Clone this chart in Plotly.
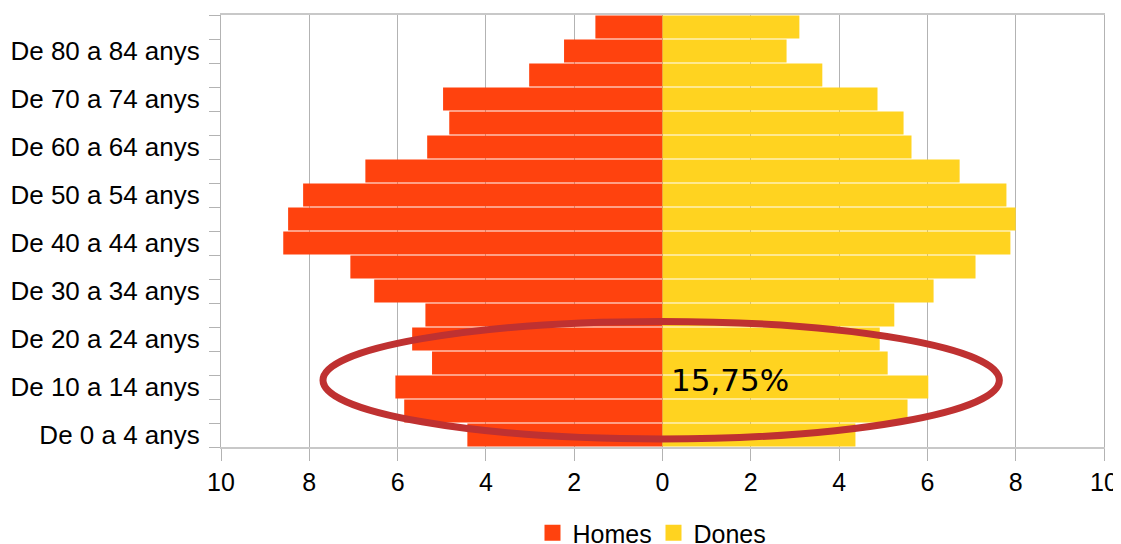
import plotly.graph_objects as go

categories = [
    "De 0 a 4 anys", "De 5 a 9 anys", "De 10 a 14 anys", "De 15 a 19 anys",
    "De 20 a 24 anys", "De 25 a 29 anys", "De 30 a 34 anys", "De 35 a 39 anys",
    "De 40 a 44 anys", "De 45 a 49 anys", "De 50 a 54 anys", "De 55 a 59 anys",
    "De 60 a 64 anys", "De 65 a 69 anys", "De 70 a 74 anys", "De 75 a 79 anys",
    "De 80 a 84 anys", "De 85 anys i més",
]
homes = [4.42, 5.85, 6.05, 5.22, 5.67, 5.37, 6.53, 7.07, 8.59, 8.48,
         8.14, 6.73, 5.33, 4.83, 4.97, 3.02, 2.23, 1.52]
dones = [4.37, 5.55, 6.02, 5.10, 4.92, 5.25, 6.14, 7.09, 7.88, 8.00,
         7.79, 6.73, 5.64, 5.46, 4.87, 3.62, 2.81, 3.10]
x_ticks = [-10, -8, -6, -4, -2, 0, 2, 4, 6, 8, 10]
x_ticktext = [str(abs(v)) for v in x_ticks]
y_ticktext = [c if i % 2 == 0 else "" for i, c in enumerate(categories)]
highlight_text = "15,75%"
series_names = ["Homes", "Dones"]
series_colors = ["#ff420e", "#ffd320"]

fig = go.Figure()
fig.add_trace(go.Bar(
    y=categories, x=[-v for v in homes], orientation="h", name=series_names[0],
    marker=dict(color=series_colors[0], line=dict(width=0)), showlegend=False,
))
fig.add_trace(go.Bar(
    y=categories, x=dones, orientation="h", name=series_names[1],
    marker=dict(color=series_colors[1], line=dict(width=0)), showlegend=False,
))
# legend entries with larger square swatches
for name, color in zip(series_names, series_colors):
    fig.add_trace(go.Scatter(
        x=[None], y=[None], mode="markers", name=name,
        marker=dict(symbol="square", size=16, color=color),
    ))

# the page body has an 8px margin, so the figure is 8px smaller each way
fig.update_layout(
    width=1113, height=536,
    margin=dict(l=213, r=17, t=7, b=97, autoexpand=False),
    paper_bgcolor="white", plot_bgcolor="white",
    barmode="relative", bargap=0.04,
    font=dict(family="Liberation Sans, Arial, sans-serif", size=25, color="#000000"),
    showlegend=True,
    legend=dict(orientation="h", x=0.4898, xanchor="center",
                yref="container", y=0.0205, yanchor="middle",
                font=dict(size=25), itemwidth=30, entrywidth=76,
                bgcolor="rgba(0,0,0,0)"),
    xaxis=dict(
        range=[-10, 10], tickvals=x_ticks, ticktext=x_ticktext, automargin=False,
        showgrid=True, gridcolor="#b3b3b3", gridwidth=1, zeroline=False,
        showline=True, linecolor="#c8c8c8", linewidth=1.5, mirror=True,
        ticks="outside", ticklen=12, tickcolor="#b3b3b3", tickwidth=1,
        tickfont=dict(size=25),
    ),
    yaxis=dict(
        type="category", categoryorder="array", categoryarray=categories,
        tickmode="array", tickvals=categories, ticktext=y_ticktext, automargin=False,
        tickson="boundaries", showgrid=False, zeroline=False,
        showline=True, linecolor="#b3b3b3", linewidth=1, mirror=True,
        ticks="outside", ticklen=11, tickcolor="#b3b3b3", tickwidth=1,
        tickfont=dict(size=26), ticklabelstandoff=15,
    ),
)

fig.add_shape(
    type="circle", xref="x", yref="paper",
    x0=-7.69, x1=7.63, y0=0.0186, y1=0.2906,
    line=dict(color="#bf3131", width=7), fillcolor="rgba(0,0,0,0)", layer="above",
)
fig.add_annotation(
    x=0.14, y=categories[2], xref="x", yref="y", yshift=7,
    text=highlight_text, showarrow=False, xanchor="left", yanchor="middle",
    font=dict(family="DejaVu Sans", size=31, color="#000000"),
)

fig.write_html("out.html")
